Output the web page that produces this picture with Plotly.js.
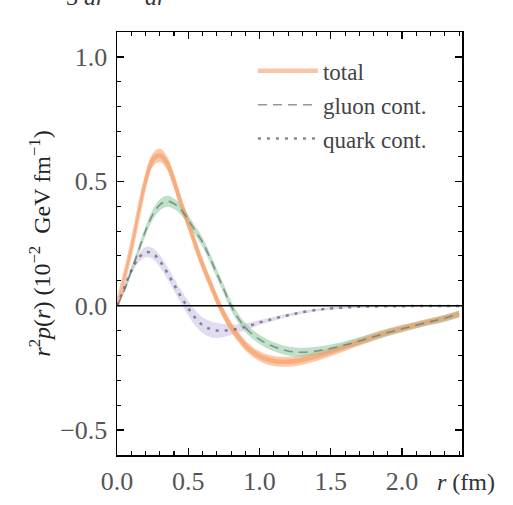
<!DOCTYPE html>
<html><head><meta charset="utf-8">
<script src="https://cdn.plot.ly/plotly-3.0.1.min.js"></script>
<style>html,body{margin:0;padding:0;background:#fff}#chart{width:513px;height:505px}</style>
</head><body><div id="chart"></div><script>
// r (fm)
const r = [0,0.05,0.1,0.15,0.2,0.25,0.3,0.35,0.4,0.45,0.5,0.55,0.6,0.65,0.7,0.75,0.8,0.85,0.9,0.95,1.0,1.05,1.1,1.15,1.2,1.25,1.3,1.4,1.5,1.6,1.7,1.8,1.9,2.0,2.1,2.2,2.3,2.4];
// total
const total = [0,0.11,0.23,0.37,0.50,0.585,0.605,0.575,0.50,0.41,0.33,0.245,0.165,0.095,0.025,-0.035,-0.085,-0.125,-0.16,-0.185,-0.203,-0.215,-0.222,-0.225,-0.225,-0.222,-0.217,-0.203,-0.185,-0.165,-0.145,-0.125,-0.107,-0.092,-0.077,-0.063,-0.05,-0.033];
const totalErr = [0,0.012,0.018,0.022,0.025,0.027,0.027,0.027,0.025,0.023,0.022,0.021,0.02,0.02,0.02,0.02,0.02,0.02,0.02,0.02,0.02,0.02,0.02,0.02,0.02,0.02,0.02,0.019,0.018,0.017,0.016,0.016,0.015,0.015,0.014,0.014,0.014,0.014];
// gluon contribution
const gluon = [0,0.06,0.14,0.22,0.30,0.365,0.405,0.42,0.41,0.385,0.345,0.30,0.255,0.195,0.13,0.065,0.0,-0.05,-0.088,-0.115,-0.135,-0.152,-0.165,-0.175,-0.182,-0.186,-0.187,-0.182,-0.172,-0.158,-0.142,-0.125,-0.108,-0.093,-0.078,-0.064,-0.05,-0.033];
const gluonErr = [0,0.01,0.014,0.017,0.019,0.021,0.022,0.022,0.021,0.02,0.02,0.019,0.019,0.019,0.019,0.019,0.019,0.019,0.018,0.018,0.018,0.018,0.018,0.018,0.018,0.018,0.018,0.017,0.016,0.015,0.015,0.014,0.014,0.013,0.013,0.013,0.013,0.013];
// quark contribution
const quark = [0,0.07,0.14,0.19,0.215,0.21,0.18,0.135,0.085,0.035,-0.01,-0.05,-0.078,-0.093,-0.1,-0.1,-0.097,-0.092,-0.085,-0.077,-0.067,-0.06,-0.052,-0.045,-0.038,-0.032,-0.026,-0.017,-0.011,-0.007,-0.004,-0.003,-0.002,-0.002,-0.001,-0.001,-0.001,-0.001];
const quarkErr = [0,0.01,0.014,0.017,0.02,0.022,0.024,0.025,0.026,0.027,0.029,0.031,0.032,0.032,0.03,0.026,0.021,0.017,0.014,0.012,0.01,0.009,0.008,0.007,0.007,0.006,0.006,0.005,0.005,0.004,0.004,0.004,0.004,0.004,0.004,0.004,0.004,0.004];

const shift = (y, e, s) => y.map((v, i) => v + s * e[i]);
const traces = [];
function addBand(y, e, fill) {
  traces.push({x: r, y: shift(y, e, -1), mode: 'lines', line: {width: 0, shape: 'spline'}, hoverinfo: 'skip', showlegend: false});
  traces.push({x: r, y: shift(y, e, 1), mode: 'lines', line: {width: 0, shape: 'spline'}, fill: 'tonexty', fillcolor: fill, hoverinfo: 'skip', showlegend: false});
}
addBand(quark, quarkErr, 'rgba(195,185,228,0.5)');
addBand(total, totalErr, 'rgba(250,178,130,0.7)');
addBand(gluon, gluonErr, 'rgba(145,205,165,0.6)');

traces.push({x: r, y: total, mode: 'lines', name: 'total', legendgroup: 'a',
  line: {color: 'rgba(245,150,95,0.55)', width: 4.5, shape: 'spline'}});
traces.push({x: r, y: gluon, mode: 'lines', name: 'gluon cont.', legendgroup: 'b',
  line: {color: 'rgba(115,115,115,0.75)', width: 1.6, dash: '9px,6px', shape: 'spline'}});
traces.push({x: r, y: quark, mode: 'lines', name: 'quark cont.', legendgroup: 'c',
  line: {color: 'rgba(105,105,115,0.8)', width: 2.5, dash: '3px,6px', shape: 'spline'}});

const serif = 'Liberation Serif, DejaVu Serif, serif';
const axBase = {
  showgrid: false, zeroline: false, showline: true, linecolor: '#000', linewidth: 1.5,
  mirror: 'ticks', ticks: 'inside', ticklen: 7, tickwidth: 1.3, tickcolor: '#000',
  tickformat: '.1f', dtick: 0.5, tick0: 0,
  tickfont: {family: serif, size: 26, color: '#555'},
  minor: {dtick: 0.1, ticks: 'inside', ticklen: 4, tickwidth: 1.1, tickcolor: '#000', showgrid: false}
};

const layout = {
  width: 513, height: 505,
  margin: {l: 117, r: 51, t: 32, b: 50},
  paper_bgcolor: '#fff', plot_bgcolor: '#fff',
  font: {family: serif, color: '#333', size: 22},
  showlegend: true,
  xaxis: Object.assign({}, axBase, {range: [0, 2.42], ticklabelstandoff: 2}),
  yaxis: Object.assign({}, axBase, {range: [-0.6, 1.1], ticklabelstandoff: 3,
    title: {text: '<i>r</i><sup>2</sup><i>p</i>(<i>r</i>) (10<sup>−2</sup>  GeV fm<sup>−1</sup>)', font: {family: serif, size: 24, color: '#222'}, standoff: 2}}),
  legend: {x: 0.394, y: 0.959, xanchor: 'left', yanchor: 'top', bgcolor: 'rgba(0,0,0,0)',
    font: {family: serif, size: 23, color: '#444'}, itemwidth: 60, tracegroupgap: 1},
  shapes: [{type: 'line', xref: 'paper', x0: 0, x1: 1, yref: 'y', y0: 0, y1: 0,
    line: {color: '#000', width: 1.6}, layer: 'above'}],
  annotations: [
    {xref: 'paper', yref: 'paper', x: 0.922, y: -0.064, xanchor: 'left', yanchor: 'middle',
      text: '<i>r</i> (fm)', showarrow: false, font: {family: serif, size: 24, color: '#333'}},
    {xref: 'paper', yref: 'paper', x: -0.155, y: 1.048, xanchor: 'left', yanchor: 'bottom',
      text: '3 <i>dr</i>', showarrow: false, font: {family: serif, size: 24, color: '#333'}},
    {xref: 'paper', yref: 'paper', x: 0.075, y: 1.048, xanchor: 'left', yanchor: 'bottom',
      text: '<i>dr</i>', showarrow: false, font: {family: serif, size: 24, color: '#333'}}
  ]
};
Plotly.newPlot('chart', traces, layout, {staticPlot: true, displayModeBar: false});
</script></body></html>
